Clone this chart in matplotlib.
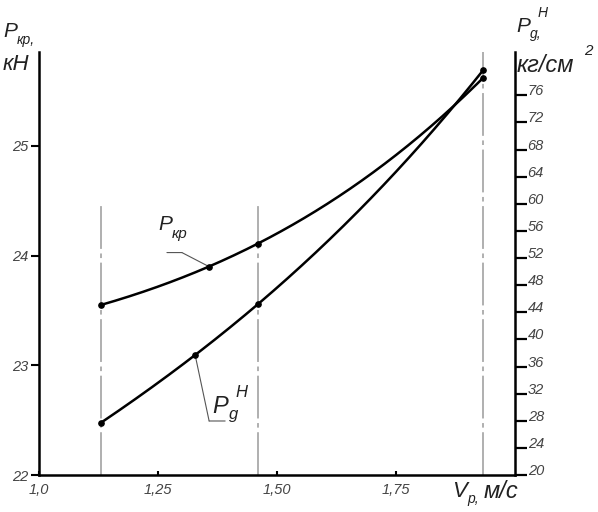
import numpy as np
import matplotlib
matplotlib.use("Agg")
import matplotlib.pyplot as plt
import matplotlib.transforms as mtransforms

# ---- data ----
v = [1.130, 1.357, 1.460, 1.933]          # V_p, m/s (P_kr points)
p_kr = [23.55, 23.90, 24.11, 25.62]       # kN
v_g = [1.130, 1.328, 1.460, 1.933]        # V_p, m/s (P_g points)
p_g = [27.7, 37.7, 45.2, 79.7]            # kg/cm^2
v_lines = [1.130, 1.460, 1.933]
x_ticks = [1.0, 1.25, 1.50, 1.75]
x_labels = ["1,0", "1,25", "1,50", "1,75"]
left_ticks = [22, 23, 24, 25]
right_ticks = list(range(20, 80, 4))

FONT = ["Liberation Sans", "DejaVu Sans"]
plt.rcParams["font.family"] = FONT

W, H = 598, 512
fig = plt.figure(figsize=(W / 100, H / 100), dpi=100)
ax = fig.add_axes([39 / W, 1 - 475 / H, 476 / W, 423 / H])
ax2 = ax.twinx()

ax.set_xlim(1.0, 2.0)
ax.set_ylim(22, 22 + 423 / 109.7)
ax2.set_ylim(20, 20 + 423 / 6.78)

for a in (ax, ax2):
    a.patch.set_visible(False)
    for s in a.spines.values():
        s.set_visible(False)
ax.spines["left"].set_visible(True)
ax.spines["bottom"].set_visible(True)
ax2.spines["right"].set_visible(True)
for s in (ax.spines["left"], ax.spines["bottom"], ax2.spines["right"]):
    s.set_linewidth(1.8)
    s.set_color("black")

# vertical dash-dot lines
dash = (0, (28, 3, 3, 3))
for i, xv in enumerate(v_lines):
    top = 24.48 if i < 2 else ax.get_ylim()[1]
    ax.plot([xv, xv], [22, top], color="#9a9a9a", lw=1.1, ls=dash, zorder=1)

# curves
xf = np.linspace(v[0], v[-1], 300)
ax.plot(xf, np.polyval(np.polyfit(v, p_kr, 3), xf), color="black", lw=1.8, zorder=3)
ax.plot(v, p_kr, "o", color="black", ms=3.8, zorder=4)
xg = np.linspace(v_g[0], v_g[-1], 300)
ax2.plot(xg, np.polyval(np.polyfit(v_g, p_g, 3), xg), color="black", lw=1.8, zorder=3)
ax2.plot(v_g, p_g, "o", color="black", ms=3.8, zorder=4)

# ticks
tick_font = dict(family=FONT, style="italic", size=10.5, color="#444444")
ax.set_xticks(x_ticks)
ax.set_xticklabels(x_labels, **tick_font)
ax.tick_params(axis="x", direction="in", length=3, width=1.5, pad=6)
ax.set_yticks(left_ticks)
ax.set_yticklabels([str(t) for t in left_ticks], **tick_font)
ax.tick_params(axis="y", direction="out", length=6, width=1.5, pad=2)
ax2.set_yticks(right_ticks)
ax2.set_yticklabels([str(t) for t in right_ticks], **tick_font)
ax2.tick_params(axis="y", direction="out", length=8.6, width=1.6, pad=0.5)
for t in ax2.get_yticklabels():
    t.set_verticalalignment("baseline")

PT = 0.72
lab = dict(family=FONT, style="italic", color="#222222")

def leader(a, pt, p1, p2):
    off = mtransforms.offset_copy(a.transData, fig=fig, x=p1[0] * PT, y=p1[1] * PT, units="points")
    a.annotate("", xy=pt, xytext=(p1[0] * PT, p1[1] * PT), textcoords="offset points",
               arrowprops=dict(arrowstyle="-", color="#555555", lw=0.8, shrinkA=0, shrinkB=0))
    a.annotate("", xy=pt, xycoords=off, xytext=((p2[0] - p1[0]) * PT, (p2[1] - p1[1]) * PT),
               textcoords="offset points",
               arrowprops=dict(arrowstyle="-", color="#555555", lw=0.8, shrinkA=0, shrinkB=0))

def tag(a, pt, d, s, size):
    a.annotate(s, xy=pt, xytext=(d[0] * PT, d[1] * PT), textcoords="offset points",
               ha="left", va="baseline", fontsize=size, **lab)

# P_kr label
pk = (v[1], p_kr[1])
leader(ax, pk, (-27, 14), (-42, 14))
tag(ax, pk, (-51, 37), "P", 15)
tag(ax, pk, (-37, 29), "кр", 11)
# P_g label
pg = (v_g[1], p_g[1])
leader(ax2, pg, (14, -66), (30, -66))
tag(ax2, pg, (17, -58), "P", 17)
tag(ax2, pg, (34, -64), "g", 12)
tag(ax2, pg, (40, -42), "H", 12)

def ftext(x, y, s, size):
    fig.text(x / W, 1 - y / H, s, ha="left", va="baseline", fontsize=size, **lab)

# left axis title
ftext(3, 37, "P", 15)
ftext(17, 44, "кр,", 10)
ftext(3, 70, "кН", 16)
# right axis title
ftext(516, 32, "P", 15)
ftext(530, 38, "g,", 10)
ftext(538, 17, "H", 10)
ftext(517, 72, "кг/см", 17)
ftext(584, 55, "2", 11)
# x axis title
ftext(452, 497, "V", 16)
ftext(467, 503, "р,", 10)
ftext(484, 498, "м/с", 17)

fig.savefig("out.png", dpi=100)
